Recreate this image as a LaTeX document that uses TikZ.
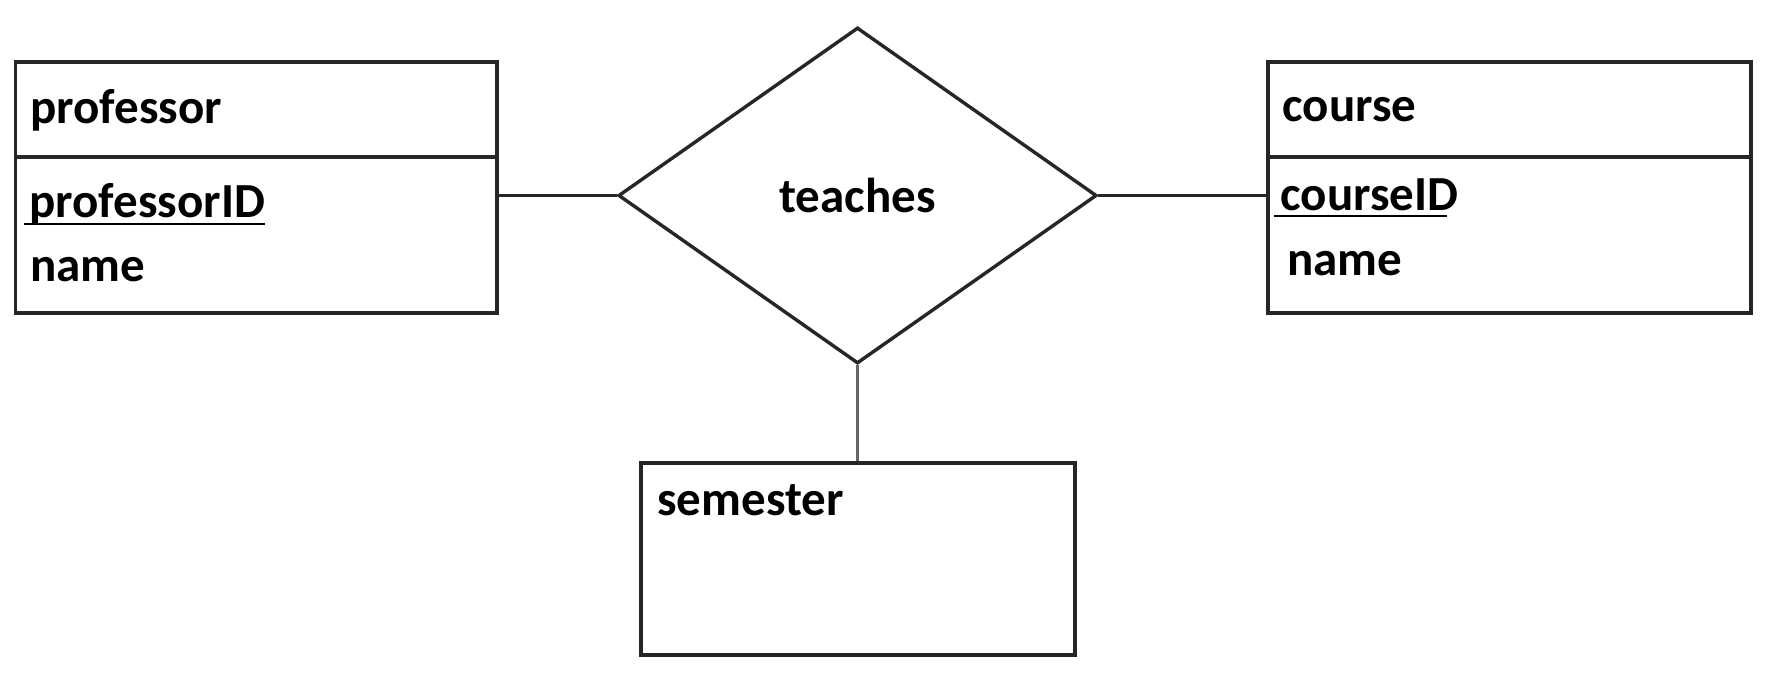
\documentclass[tikz,border=0pt]{standalone}
\usepackage{fontspec}
\setmainfont{Carlito}
\usetikzlibrary{shapes.geometric}
\begin{document}
\begin{tikzpicture}[x=0.5pt,y=-0.5pt,
  box/.style={draw=black!85, line width=1.9pt, rectangle, inner sep=0pt, anchor=north west},
  rel/.style={draw=black!85, line width=1.7pt, diamond, inner sep=0pt,
    font=\bfseries\fontsize{24.5}{28}\selectfont},
  lbl/.style={anchor=base west, inner sep=0pt, font=\bfseries\fontsize{24.5}{28}\selectfont},
  link/.style={draw=black!85, line width=1.8pt},
  ul/.style={draw=black, line width=1.4pt}]
\useasboundingbox (0,0) rectangle (1765,684);
% entities
\node[box, minimum width=240.75pt, minimum height=125.5pt] (prof) at (13.5,60) {};
\node[box, minimum width=241.5pt, minimum height=125.5pt] (course) at (1266,60) {};
\node[box, minimum width=217pt, minimum height=96.3pt] (sem) at (639.3,460.7) {};
% relationship
\node[rel, minimum width=239.2pt, minimum height=168pt] (rel) at (857.5,195.5) {teaches};
% dividers
\draw[link] (prof.west |- 0,157) -- (prof.east |- 0,157);
\draw[link] (course.west |- 0,157) -- (course.east |- 0,157);
% labels
\node[lbl] (ptitle) at (30,124) {professor};
\node[lbl] (pid) at (29,218) {professorID};
\node[lbl] (pname) at (30,281) {name};
\node[lbl] (ctitle) at (1282,122) {course};
\node[lbl] (cid) at (1280,211) {courseID};
\node[lbl] (cname) at (1287,275) {name};
\node[lbl] (stitle) at (657,515) {semester};
% underlines
\draw[ul] ([xshift=-2.5pt,yshift=-3pt]pid.base west) -- ([yshift=-3pt]pid.base east);
\draw[ul] ([xshift=-3pt,yshift=-2.5pt]cid.base west) -- ([xshift=-6pt,yshift=-2.5pt]cid.base east);
% connectors
\draw[link] (prof.east |- rel.west) -- (rel.west);
\draw[link] (rel.east) -- (course.west |- rel.east);
\draw[link, draw=black!60] (rel.south) -- (sem.north -| rel.south);
\end{tikzpicture}
\end{document}
